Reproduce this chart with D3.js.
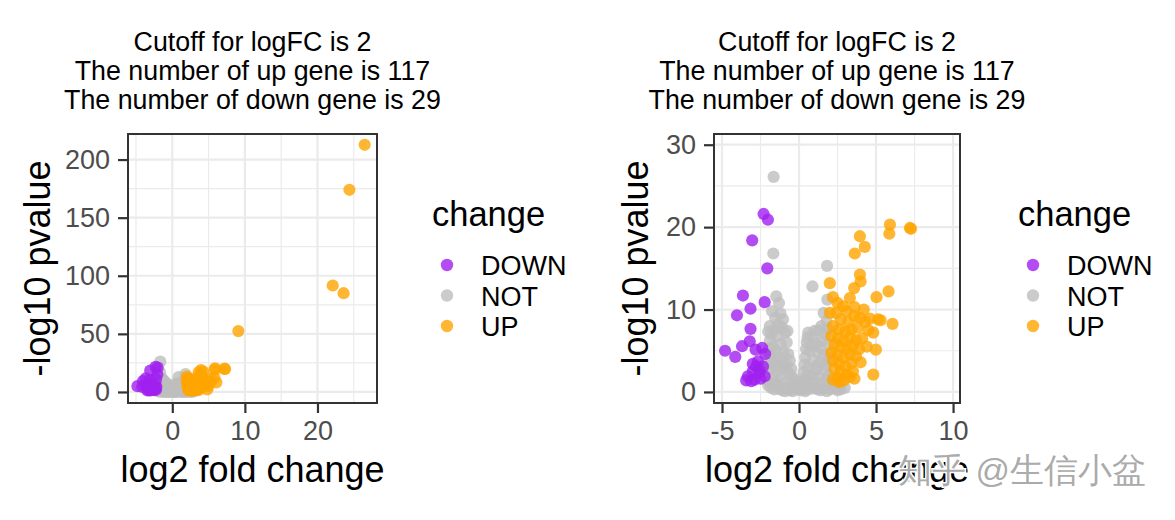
<!DOCTYPE html>
<html><head><meta charset="utf-8">
<script src="https://cdn.jsdelivr.net/npm/d3@7"></script>
<style>body{margin:0;background:#fff;overflow:hidden} text{font-family:"Liberation Sans",Arial,sans-serif}</style>
</head><body><svg id="c" width="1175" height="520"></svg>
<script>
// ---------- data ----------
const titleLines = ["Cutoff for logFC is 2", "The number of up gene is 117", "The number of down gene is 29"];
const categories = ["DOWN", "NOT", "UP"];
const downGenes = [
 [-2.3,21.6],[-2.02,20.9],[-3.04,18.4],[-2.06,15.0],[-2.23,10.9],[-3.64,11.7],[-3.15,10.1],[-4.03,9.3],
 [-3.15,7.65],[-3.2,6.15],[-3.7,5.55],[-4.14,4.25],[-4.8,5.0],[-2.82,5.14],[-2.39,5.34],[-2.78,3.1],
 [-3.0,2.5],[-3.32,1.9],[-2.56,2.3],[-2.23,1.9],[-2.89,1.5],[-3.43,1.4],[-2.67,3.7],[-3.1,1.3],
 [-2.34,3.1],[-2.6,2.7],[-3.0,3.4],[-2.2,4.6],[-2.5,1.6]
];
const notGenes = [
 [-1.65,26.1],[-1.67,16.8],[0.87,12.8],[1.82,15.3],[1.84,11.2],[1.78,8.6],[-1.48,11.6],[-1.04,8.8],
 [-1.3,10.8],[-1.2,9.5],[-1.1,7.8],[-1.6,7.6],[-1.8,7.0],[-1.4,6.8],[-0.9,7.2],[-1.9,6.2],[-1.7,5.5],
 [-1.2,5.8],[-0.8,6.0],[-1.5,5.0],[-1.9,4.5],[-1.0,4.8],[-0.7,4.6],[-1.3,4.2],[-1.8,3.6],[-1.5,3.2],
 [-1.1,3.5],[-0.6,3.8],[-0.9,2.9],[-1.9,2.6],[-1.4,2.4],[-0.7,2.4],[-1.7,1.8],[-1.2,1.7],[-0.5,1.9],
 [-1.95,1.2],[-1.5,1.0],[-1.0,1.1],[-0.4,1.2],[-1.8,0.5],[-1.3,0.4],[-0.8,0.5],[-0.3,0.5],[-0.1,0.3],
 [0.1,0.2],[0.3,0.4],[-0.6,0.2],[-1.1,0.2],[-1.6,0.3],[0.5,0.3],[0.8,0.4],[1.2,0.3],[1.6,0.4],[2.0,0.3],
 [2.4,0.4],[2.97,0.5],[2.7,0.3],[-2.0,0.8],[-0.2,0.9],[0.2,1.0],[0.4,1.5],
 [0.6,7.2],[0.9,6.8],[1.3,7.5],[1.7,7.0],[0.5,6.0],[1.1,5.9],[1.5,6.2],[1.9,5.8],[0.7,5.0],[1.2,4.8],
 [1.6,4.5],[0.4,4.2],[0.9,3.9],[1.4,3.6],[1.9,3.9],[0.6,3.0],[1.1,2.8],[1.7,2.6],[0.3,2.4],[0.8,2.0],
 [1.3,1.8],[1.8,1.6],[0.6,1.2],[1.0,1.0],[1.5,1.1],[1.95,1.0],[2.3,0.9],[2.6,0.8],
 [-1.9,8.0],[-2.0,7.3],[-1.75,9.8],[-1.55,9.0],[-1.35,8.2],[-0.75,7.4],[-1.95,5.2],[-2.0,3.2],
 [-1.6,4.0],[-1.2,3.0],[-0.8,3.3],[-0.5,2.8],[-0.3,1.6],[0.0,1.2],[0.1,0.7],[-0.4,0.1],[0.4,0.1],
 [0.7,0.7],[1.1,0.5],[1.4,0.2],[1.8,0.1],[2.2,0.6],[2.5,0.2],[-0.9,0.1],[-1.4,0.7],[-1.7,1.1],
 [0.35,3.3],[0.45,5.2],[0.55,6.6],[1.0,7.4],[1.45,8.0],[1.6,9.6],[1.9,7.6],[1.95,4.6],[1.95,2.0],
 [1.2,3.3],[0.85,5.6],[1.35,5.4],[1.75,3.2],[1.0,2.2],[0.5,2.0]
];
const upGenes = [
 [2.0,13.2],[2.2,11.5],[2.5,10.8],[2.86,10.4],[3.3,11.4],[3.1,9.8],[2.4,9.6],[2.0,9.6],[3.6,9.2],
 [3.95,9.0],[4.3,8.5],[2.7,8.8],[3.2,8.5],[2.2,8.0],[2.6,7.6],[3.0,7.3],[3.4,7.6],[3.8,7.8],[4.5,7.5],
 [2.1,6.8],[2.5,6.5],[2.9,6.2],[3.3,6.6],[3.7,6.3],[4.1,6.5],[2.3,5.8],[2.7,5.5],[3.1,5.3],[3.5,5.6],
 [3.9,5.2],[4.4,5.5],[2.1,4.8],[2.5,4.5],[2.9,4.2],[3.3,4.6],[3.7,4.3],[4.0,3.6],[2.2,3.8],[2.6,3.4],
 [3.0,3.1],[3.4,3.5],[2.3,2.8],[2.7,2.4],[3.1,2.1],[3.5,2.5],[2.5,1.7],[2.9,1.4],[3.3,1.8],[2.2,1.5],
 [2.6,1.2],[3.6,1.6],
 [5.9,20.3],[5.86,19.2],[7.2,19.9],[7.27,19.8],[3.95,18.9],[4.27,17.6],[3.62,16.8],[3.95,14.25],
 [4.0,13.4],[3.58,12.6],[5.81,12.2],[5.03,11.5],[6.07,8.26],[5.14,8.8],[4.82,7.2],[4.99,5.14],
 [4.82,2.1],[5.3,8.7],[4.6,8.9],[4.2,10.0],[3.6,10.3],
 [26.5,212.7],[24.4,174],[22.1,91.6],[23.6,85],[9.1,52.4]
];
const leftXTicks = [0, 10, 20], leftXMinor = [-5, 5, 15, 25];
const leftYTicks = [0, 50, 100, 150, 200], leftYMinor = [25, 75, 125, 175];
const rightXTicks = [-5, 0, 5, 10], rightXMinor = [-2.5, 2.5, 7.5];
const rightYTicks = [0, 10, 20, 30], rightYMinor = [5, 15, 25];
const rightLimitsX = [-5, 10], rightLimitsY = [0, 30];

// ---------- styles ----------
const colorOf = {DOWN: "#A020F0", NOT: "#BEBEBE", UP: "#FFA500"};
const svg = d3.select("#c");
const fmt = d => String(d); // plain hyphen minus as in the reference

function panel(cfg) {
  const x = d3.scaleLinear().domain(cfg.xDomain).range([cfg.x0, cfg.x1]);
  const y = d3.scaleLinear().domain(cfg.yDomain).range([cfg.y1, cfg.y0]);
  const g = svg.append("g");
  g.append("rect").attr("x", cfg.x0).attr("y", cfg.y0).attr("width", cfg.x1 - cfg.x0).attr("height", cfg.y1 - cfg.y0).attr("fill", "#fff");
  g.selectAll(".vmin").data(cfg.xMinor).join("line").attr("x1", d => x(d)).attr("x2", d => x(d)).attr("y1", cfg.y0).attr("y2", cfg.y1).attr("stroke", "#ebebeb").attr("stroke-width", 1.2);
  g.selectAll(".hmin").data(cfg.yMinor).join("line").attr("y1", d => y(d)).attr("y2", d => y(d)).attr("x1", cfg.x0).attr("x2", cfg.x1).attr("stroke", "#ebebeb").attr("stroke-width", 1.2);
  g.selectAll(".vmaj").data(cfg.xTicks).join("line").attr("x1", d => x(d)).attr("x2", d => x(d)).attr("y1", cfg.y0).attr("y2", cfg.y1).attr("stroke", "#ebebeb").attr("stroke-width", 2.2);
  g.selectAll(".hmaj").data(cfg.yTicks).join("line").attr("y1", d => y(d)).attr("y2", d => y(d)).attr("x1", cfg.x0).attr("x2", cfg.x1).attr("stroke", "#ebebeb").attr("stroke-width", 2.2);
  const sets = [["NOT", notGenes], ["DOWN", downGenes], ["UP", upGenes]];
  sets.forEach(([cat, pts]) => {
    const data = pts.filter(cfg.keep);
    g.append("g").selectAll("circle").data(data).join("circle")
      .attr("cx", d => x(d[0])).attr("cy", d => y(d[1])).attr("r", 6.1)
      .attr("fill", colorOf[cat]).attr("fill-opacity", 0.8);
  });
  g.append("rect").attr("x", cfg.x0).attr("y", cfg.y0).attr("width", cfg.x1 - cfg.x0).attr("height", cfg.y1 - cfg.y0).attr("fill", "none").attr("stroke", "#333").attr("stroke-width", 2);
  const ax = g.append("g").attr("transform", `translate(0,${cfg.y1})`).call(d3.axisBottom(x).tickValues(cfg.xTicks).tickSize(10).tickPadding(8).tickFormat(fmt));
  const ay = g.append("g").attr("transform", `translate(${cfg.x0},0)`).call(d3.axisLeft(y).tickValues(cfg.yTicks).tickSize(10).tickPadding(8).tickFormat(fmt));
  [ax, ay].forEach(a => {
    a.select(".domain").remove();
    a.selectAll(".tick line").attr("stroke", "#333").attr("stroke-width", 2.2);
    a.selectAll(".tick text").attr("fill", "#4d4d4d").attr("font-size", 27).attr("font-family", "Liberation Sans, Arial, sans-serif");
  });
  const cx = (cfg.x0 + cfg.x1) / 2;
  titleLines.forEach((t, i) => {
    g.append("text").attr("x", cx).attr("y", 51 + i * 29).attr("text-anchor", "middle").attr("font-size", 26.8).attr("fill", "#000").text(t);
  });
  g.append("text").attr("x", cx).attr("y", 482).attr("text-anchor", "middle").attr("font-size", 36).attr("fill", "#000").text("log2 fold change");
  g.append("text").attr("transform", `translate(${cfg.yTitleX},${(cfg.y0 + cfg.y1) / 2}) rotate(-90)`).attr("text-anchor", "middle").attr("font-size", 36).attr("fill", "#000").text("-log10 pvalue");
  g.append("text").attr("x", cfg.legendX).attr("y", 226).attr("font-size", 34.5).attr("fill", "#000").text("change");
  categories.forEach((c, i) => {
    const yy = 265 + i * 30.5;
    g.append("circle").attr("cx", cfg.legendX + 15).attr("cy", yy).attr("r", 6.2).attr("fill", colorOf[c]).attr("fill-opacity", 0.8);
    g.append("text").attr("x", cfg.legendX + 49).attr("y", yy + 10).attr("font-size", 27).attr("fill", "#000").text(c);
  });
}

panel({x0: 128, x1: 377, y0: 134, y1: 403, xDomain: [-6.1, 28.2], yDomain: [-9.5, 222],
  xTicks: leftXTicks, xMinor: leftXMinor, yTicks: leftYTicks, yMinor: leftYMinor,
  yTitleX: 50, legendX: 432, keep: d => true});
panel({x0: 714, x1: 960, y0: 134, y1: 403, xDomain: [-5.52, 10.45], yDomain: [-1.34, 31.3],
  xTicks: rightXTicks, xMinor: rightXMinor, yTicks: rightYTicks, yMinor: rightYMinor,
  yTitleX: 648, legendX: 1018,
  keep: d => d[0] >= rightLimitsX[0] && d[0] <= rightLimitsX[1] && d[1] >= rightLimitsY[0] && d[1] <= rightLimitsY[1]});

// watermark
svg.append("text").attr("x", 898).attr("y", 482).attr("font-size", 34)
  .attr("font-family", "Noto Sans CJK SC, sans-serif").attr("font-weight", 300)
  .attr("fill", "#a0a0a0").attr("stroke", "#fff").attr("stroke-width", 3).attr("paint-order", "stroke")
  .attr("fill-opacity", 0.9).text("知乎 @生信小盆");
</script></body></html>
